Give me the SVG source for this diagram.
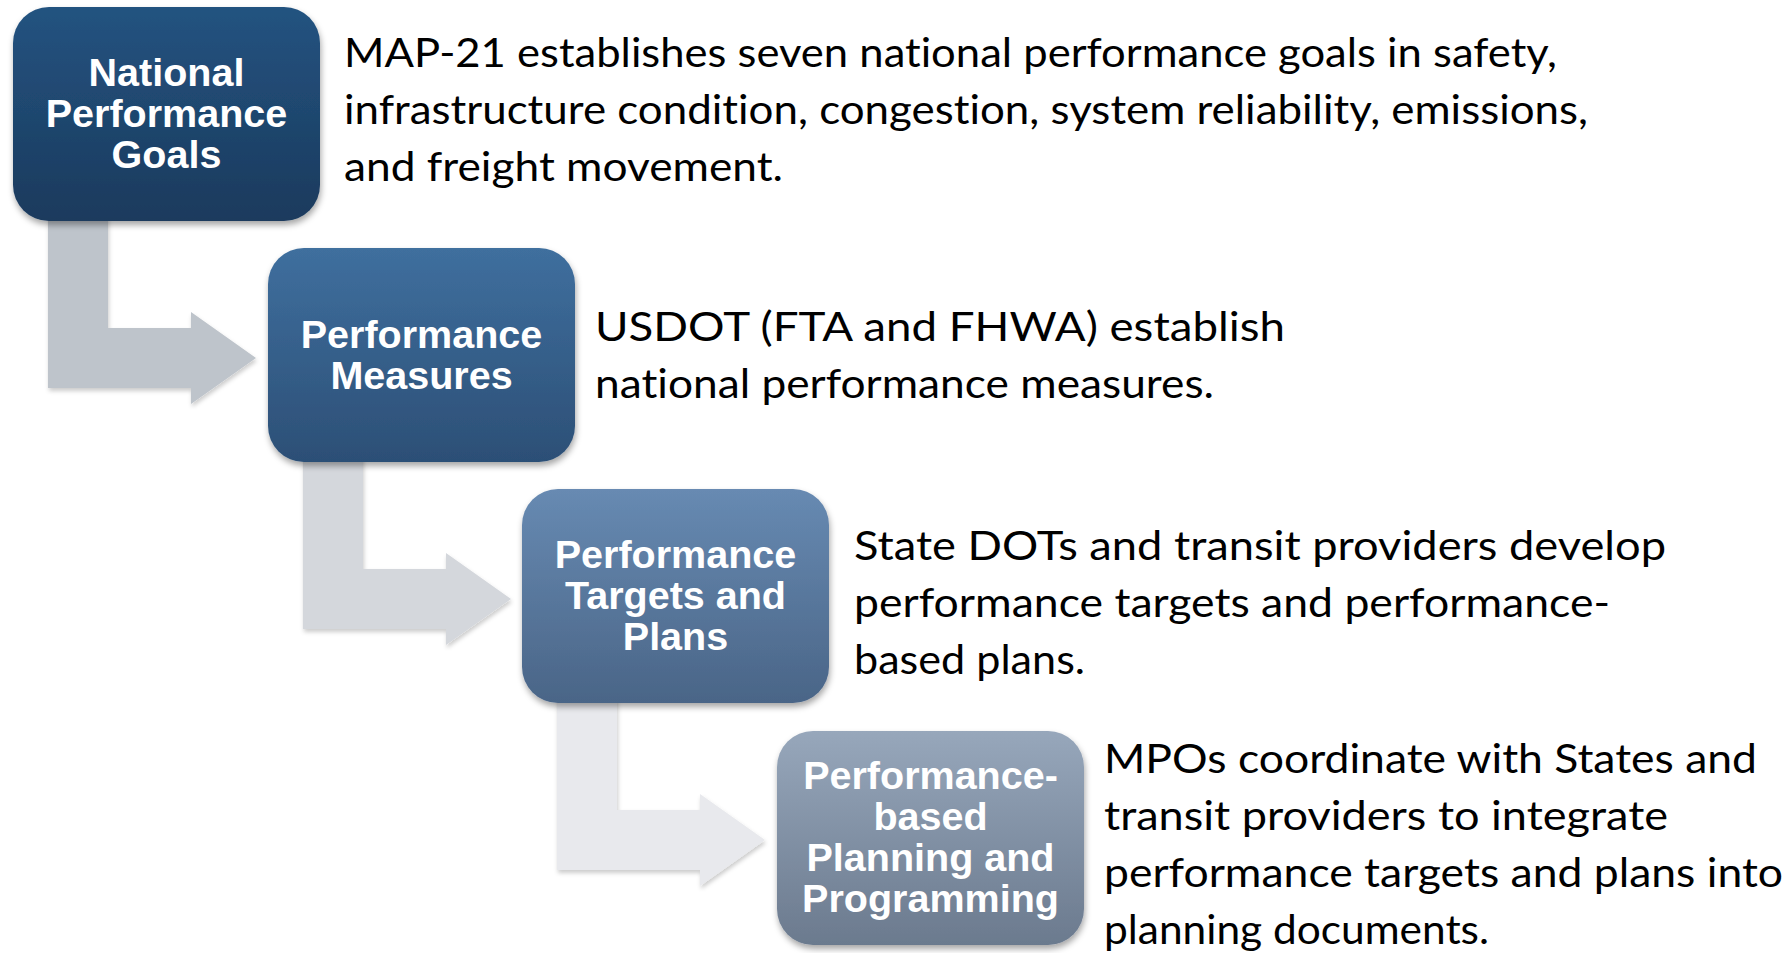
<svg xmlns="http://www.w3.org/2000/svg" width="1791" height="953" viewBox="0 0 1791 953">
<defs>
<linearGradient id="g1" x1="0" y1="0" x2="0" y2="1"><stop offset="0" stop-color="#245380"/><stop offset="1" stop-color="#1a3a5d"/></linearGradient>
<linearGradient id="g2" x1="0" y1="0" x2="0" y2="1"><stop offset="0" stop-color="#3f6f9e"/><stop offset="1" stop-color="#2c4f76"/></linearGradient>
<linearGradient id="g3" x1="0" y1="0" x2="0" y2="1"><stop offset="0" stop-color="#678ab2"/><stop offset="1" stop-color="#4a6587"/></linearGradient>
<linearGradient id="g4" x1="0" y1="0" x2="0" y2="1"><stop offset="0" stop-color="#97a7bb"/><stop offset="1" stop-color="#6b7a8e"/></linearGradient>
<filter id="sh" x="-10%" y="-10%" width="120%" height="125%">
<feDropShadow dx="1" dy="4" stdDeviation="3" flood-color="#000" flood-opacity="0.35"/>
</filter>
<filter id="sha" x="-10%" y="-10%" width="120%" height="125%">
<feDropShadow dx="1" dy="3" stdDeviation="2" flood-color="#000" flood-opacity="0.2"/>
</filter>
</defs>
<style>
.box{filter:url(#sh)}
.bt{font-family:"Liberation Sans",Arial,sans-serif;font-weight:bold;font-size:39.5px;fill:#fff;text-anchor:middle}
.tx{font-family:Lato,"Noto Sans",sans-serif;font-size:41px;fill:#000;font-variant-ligatures:none}
.arr{filter:url(#sha)}
</style>
<rect width="1791" height="953" fill="#fff"/>
<g id="connectors">
<path class="arr" fill="#bec4cb" d="M48,215 L108,215 L108,328 L191,328 L191,312 L256,358 L191,404 L191,388 L48,388 Z"/>
<path class="arr" fill="#d4d7dc" d="M303,456 L363,456 L363,569 L446,569 L446,553 L511,599 L446,645 L446,629 L303,629 Z"/>
<path class="arr" fill="#e8e9ed" d="M557,697 L617,697 L617,810 L700,810 L700,794 L765,840 L700,886 L700,870 L557,870 Z"/>
</g>
<g id="node1">
<rect class="box" x="13" y="7" width="307" height="214" rx="36" fill="url(#g1)"/>
<text class="bt" x="166.5" y="86">National</text>
<text class="bt" x="166.5" y="127">Performance</text>
<text class="bt" x="166.5" y="168">Goals</text>
</g>
<g id="node2">
<rect class="box" x="268" y="248" width="307" height="214" rx="36" fill="url(#g2)"/>
<text class="bt" x="421.5" y="348">Performance</text>
<text class="bt" x="421.5" y="389">Measures</text>
</g>
<g id="node3">
<rect class="box" x="522" y="489" width="307" height="214" rx="36" fill="url(#g3)"/>
<text class="bt" x="675.5" y="568">Performance</text>
<text class="bt" x="675.5" y="609">Targets and</text>
<text class="bt" x="675.5" y="650">Plans</text>
</g>
<g id="node4">
<rect class="box" x="777" y="731" width="307" height="214" rx="36" fill="url(#g4)"/>
<text class="bt" x="930.5" y="789">Performance-</text>
<text class="bt" x="930.5" y="830">based</text>
<text class="bt" x="930.5" y="871">Planning and</text>
<text class="bt" x="930.5" y="912">Programming</text>
</g>
<g id="desc1">
<text class="tx" x="344" y="67" textLength="1213" lengthAdjust="spacingAndGlyphs">MAP-21 establishes seven national performance goals in safety,</text>
<text class="tx" x="344" y="124" textLength="1244" lengthAdjust="spacingAndGlyphs">infrastructure condition, congestion, system reliability, emissions,</text>
<text class="tx" x="344" y="181" textLength="439" lengthAdjust="spacingAndGlyphs">and freight movement.</text>
</g>
<g id="desc2">
<text class="tx" x="595" y="341" textLength="690" lengthAdjust="spacingAndGlyphs">USDOT (FTA and FHWA) establish</text>
<text class="tx" x="595" y="398" textLength="619" lengthAdjust="spacingAndGlyphs">national performance measures.</text>
</g>
<g id="desc3">
<text class="tx" x="854" y="560" textLength="812" lengthAdjust="spacingAndGlyphs">State DOTs and transit providers develop</text>
<text class="tx" x="854" y="617" textLength="756" lengthAdjust="spacingAndGlyphs">performance targets and performance-</text>
<text class="tx" x="854" y="674" textLength="231" lengthAdjust="spacingAndGlyphs">based plans.</text>
</g>
<g id="desc4">
<text class="tx" x="1104" y="773" textLength="653" lengthAdjust="spacingAndGlyphs">MPOs coordinate with States and</text>
<text class="tx" x="1104" y="830" textLength="564" lengthAdjust="spacingAndGlyphs">transit providers to integrate</text>
<text class="tx" x="1104" y="887" textLength="679" lengthAdjust="spacingAndGlyphs">performance targets and plans into</text>
<text class="tx" x="1104" y="944" textLength="385" lengthAdjust="spacingAndGlyphs">planning documents.</text>
</g>
</svg>
